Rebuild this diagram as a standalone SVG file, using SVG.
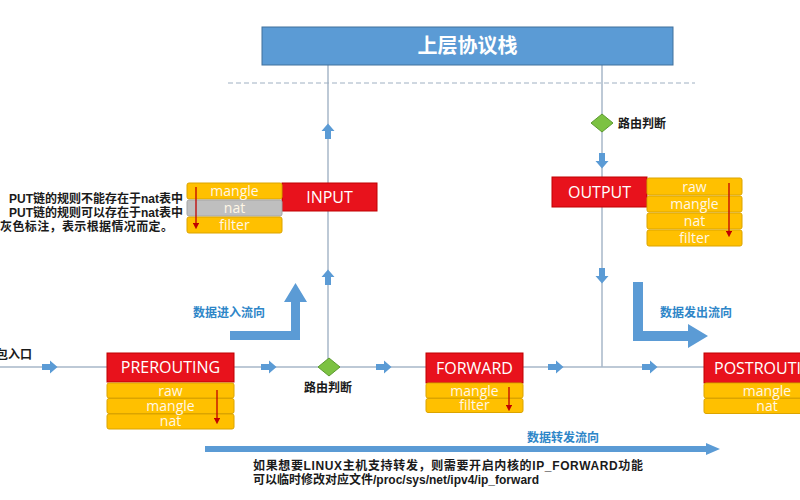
<svg xmlns="http://www.w3.org/2000/svg" width="800" height="500" viewBox="0 0 800 500">
<defs>
<style>
.line{stroke:#a7b7c9;stroke-width:1.5;fill:none}
.red{fill:#e8121c;stroke:#c00000;stroke-width:1}
.row{fill:#ffc000;stroke:#dba400;stroke-width:1}
.gray{fill:#bfbfbf;stroke:#a6a6a6;stroke-width:1}
.lbl{font-family:"Open Sans","Liberation Sans",sans-serif;font-size:16px;fill:#ffffff;text-anchor:middle}
.lbls{font-family:"Open Sans","Liberation Sans",sans-serif;font-size:16px;fill:#ffffff;text-anchor:start}
.rt{font-family:"Open Sans","Liberation Sans",sans-serif;font-size:14px;fill:#fff7e6;text-anchor:middle}
.cn{font-family:"Liberation Sans","Noto Sans CJK SC",sans-serif;font-size:12px;font-weight:bold;fill:#1a1a1a}
.bl{font-family:"Liberation Sans","Noto Sans CJK SC",sans-serif;font-size:12px;font-weight:bold;fill:#2e86c8}
.blk{fill:#5b9bd5}
.rarr{stroke:#c00000;stroke-width:1.3;fill:none}
.dia{fill:#7cc242;stroke:#5c9a30;stroke-width:1}
</style>
<path id="sa" d="M-8,-3 H0 V-6.5 L7.5,0 L0,6.5 V3 H-8 Z" fill="#5b9bd5"/>
<marker id="rh" viewBox="0 0 6 6" refX="3" refY="3" markerWidth="5" markerHeight="5" orient="auto"><path d="M0,0 L6,3 L0,6 Z" fill="#c00000"/></marker>
</defs>
<rect width="800" height="500" fill="#ffffff"/>

<g id="connectors">
<line class="line" x1="0" y1="367" x2="800" y2="367"/>
<line class="line" x1="328" y1="65" x2="328" y2="367"/>
<line class="line" x1="602" y1="65" x2="602" y2="367"/>
<line x1="228" y1="83" x2="695" y2="83" stroke="#9fb0c2" stroke-width="1" stroke-dasharray="5 3"/>
<use href="#sa" x="50" y="367"/>
<use href="#sa" x="269" y="367"/>
<use href="#sa" x="384" y="367"/>
<use href="#sa" x="556" y="367"/>
<use href="#sa" x="650" y="367"/>
<use href="#sa" transform="translate(328,131) rotate(-90)"/>
<use href="#sa" transform="translate(328,277) rotate(-90)"/>
<use href="#sa" transform="translate(602,161) rotate(90)"/>
<use href="#sa" transform="translate(602,276) rotate(90)"/>
</g>

<g id="upper-stack">
<rect x="262" y="27" width="411" height="38" fill="#5b9bd5" stroke="#41719c" stroke-width="1"/>
<text x="467.5" y="53" font-family="'Liberation Sans','Noto Sans CJK SC',sans-serif" font-size="20" font-weight="bold" fill="#ffffff" text-anchor="middle">上层协议栈</text>
</g>

<g id="route-in">
<path class="dia" d="M329,358 L340,367 L329,376 L318,367 Z"/>
<text class="cn" x="328" y="392" text-anchor="middle">路由判断</text>
</g>

<g id="route-out">
<path class="dia" d="M602,114 L613,123 L602,132 L591,123 Z"/>
<text class="cn" x="618" y="128">路由判断</text>
</g>

<g id="entry">
<text class="cn" x="32" y="359" text-anchor="end">包入口</text>
</g>

<g id="prerouting">
<rect class="red" x="107" y="353" width="127" height="29"/>
<text class="lbl" x="170.5" y="373">PREROUTING</text>
<rect class="row" x="107" y="383" width="127" height="15" rx="2"/>
<rect class="row" x="107" y="398.5" width="127" height="15" rx="2"/>
<rect class="row" x="107" y="414" width="127" height="15" rx="2"/>
<text class="rt" x="170.5" y="395.5">raw</text>
<text class="rt" x="170.5" y="410.5">mangle</text>
<text class="rt" x="170.5" y="426">nat</text>
<line class="rarr" x1="217" y1="390" x2="217" y2="421" marker-end="url(#rh)"/>
</g>

<g id="input">
<rect class="red" x="282" y="183" width="95" height="28"/>
<text class="lbl" x="329.5" y="203">INPUT</text>
<rect class="row" x="187" y="183" width="95" height="16" rx="2"/>
<rect class="gray" x="187" y="200" width="95" height="16" rx="2"/>
<rect class="row" x="187" y="217" width="95" height="16" rx="2"/>
<text class="rt" x="234.5" y="195.5">mangle</text>
<text class="rt" x="234.5" y="212.5">nat</text>
<text class="rt" x="234.5" y="229.5">filter</text>
<line class="rarr" x1="196" y1="187" x2="196" y2="226" marker-end="url(#rh)"/>
</g>

<g id="note">
<text class="cn" x="183" y="203" text-anchor="end">PUT链的规则不能存在于nat表中</text>
<text class="cn" x="183" y="217" text-anchor="end">PUT链的规则可以存在于nat表中</text>
<text class="cn" x="0" y="231" textLength="173" lengthAdjust="spacing">灰色标注，表示根据情况而定。</text>
</g>

<g id="output">
<rect class="red" x="552" y="177" width="95" height="30"/>
<text class="lbl" x="599.5" y="198">OUTPUT</text>
<rect class="row" x="647" y="178" width="95" height="17" rx="2"/>
<rect class="row" x="647" y="196" width="95" height="16" rx="2"/>
<rect class="row" x="647" y="213" width="95" height="16" rx="2"/>
<rect class="row" x="647" y="230" width="95" height="16" rx="2"/>
<text class="rt" x="694.5" y="191.5">raw</text>
<text class="rt" x="694.5" y="208.5">mangle</text>
<text class="rt" x="694.5" y="225.5">nat</text>
<text class="rt" x="694.5" y="242.5">filter</text>
<line class="rarr" x1="729" y1="183" x2="729" y2="234" marker-end="url(#rh)"/>
</g>

<g id="forward">
<rect class="red" x="426" y="353" width="97" height="30"/>
<text class="lbl" x="474.5" y="374">FORWARD</text>
<rect class="row" x="426" y="383" width="97" height="15" rx="2"/>
<rect class="row" x="426" y="398.5" width="97" height="14" rx="2"/>
<text class="rt" x="474.5" y="395.5">mangle</text>
<text class="rt" x="474.5" y="410">filter</text>
<line class="rarr" x1="509" y1="387" x2="509" y2="408" marker-end="url(#rh)"/>
</g>

<g id="postrouting">
<rect class="red" x="704" y="353" width="127" height="30"/>
<text class="lbls" x="714" y="374">POSTROUTING</text>
<rect class="row" x="704" y="383" width="127" height="15" rx="2"/>
<rect class="row" x="704" y="398.5" width="127" height="15" rx="2"/>
<text class="rt" x="767" y="395.5">mangle</text>
<text class="rt" x="767" y="410.5">nat</text>
</g>

<g id="flow-in">
<path class="blk" d="M230,331 H291 V302 H284 L295.5,283 L307,302 H300 V340 H230 Z"/>
<text class="bl" x="193" y="317">数据进入流向</text>
</g>

<g id="flow-out">
<path class="blk" d="M633,282 H643 V331 H688 V324 L708,336 L688,348 V341 H633 Z"/>
<text class="bl" x="660" y="317">数据发出流向</text>
</g>

<g id="flow-forward">
<path class="blk" d="M205,446 H706 V443 L720,449 L706,455 V452 H205 Z"/>
<text class="bl" x="527" y="442">数据转发流向</text>
</g>

<g id="footnote">
<text class="cn" x="253" y="470" textLength="390" lengthAdjust="spacing">如果想要LINUX主机支持转发，则需要开启内核的IP_FORWARD功能</text>
<text class="cn" x="253" y="484">可以临时修改对应文件/proc/sys/net/ipv4/ip_forward</text>
</g>
</svg>
